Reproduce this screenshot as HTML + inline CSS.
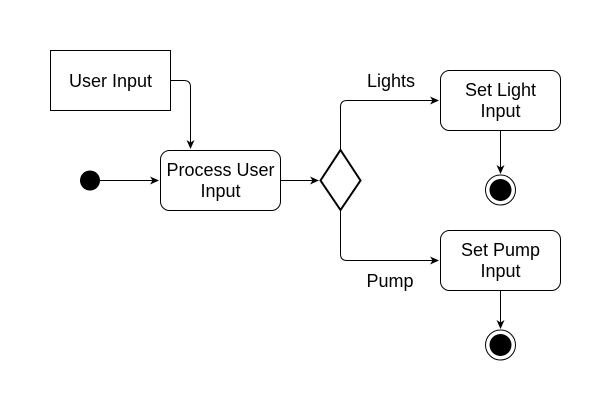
<!DOCTYPE html>
<html><head><style>body{margin:0;background:#fff}</style></head><body>
<svg width="611" height="411" xmlns="http://www.w3.org/2000/svg" font-family="Liberation Sans, sans-serif" font-size="18">
<defs><marker id="a" markerWidth="10" markerHeight="10" refX="8" refY="4" orient="auto" markerUnits="userSpaceOnUse"><path d="M0,0 L9,4 L0,8 L2.5,4 Z" fill="#000"/></marker></defs>
<g fill="none" stroke="#000" stroke-width="1">
<rect x="50.5" y="50.5" width="120" height="60" fill="#fff"/>
<rect x="160.5" y="150.5" width="120" height="60" rx="9" fill="#fff"/>
<rect x="440.5" y="70.5" width="120" height="60" rx="9" fill="#fff"/>
<rect x="440.5" y="230.5" width="120" height="60" rx="9" fill="#fff"/>
<path d="M170.5,80.5 H184 Q190.5,80.5 190.5,87 V148" marker-end="url(#a)"/>
<path d="M100,180.5 H158" marker-end="url(#a)"/>
<path d="M280.5,180.5 H318" marker-end="url(#a)"/>
<path d="M340.5,150 V107 Q340.5,100.5 347,100.5 H438" marker-end="url(#a)"/>
<path d="M340.5,210 V254 Q340.5,260.5 347,260.5 H438" marker-end="url(#a)"/>
<path d="M500.5,130.5 V173" marker-end="url(#a)"/>
<path d="M500.5,290.5 V328" marker-end="url(#a)"/>
<circle cx="500.5" cy="190" r="15" fill="#fff"/>
<circle cx="500.5" cy="345" r="15" fill="#fff"/>
</g>
<path d="M340.5,150 L360.5,180.5 L340.5,210 L320.5,180.5 Z" fill="#fff" stroke="#000" stroke-width="2"/>
<circle cx="90" cy="180.5" r="10" fill="#000"/>
<circle cx="500.5" cy="190" r="11" fill="#000"/>
<circle cx="500.5" cy="345" r="11" fill="#000"/>
<g text-anchor="middle" fill="#000">
<text x="110.5" y="87">User Input</text>
<text x="220.5" y="176">Process User</text>
<text x="220.5" y="197">Input</text>
<text x="500.5" y="96">Set Light</text>
<text x="500.5" y="117">Input</text>
<text x="500.5" y="256">Set Pump</text>
<text x="500.5" y="277">Input</text>
<text x="391" y="87">Lights</text>
<text x="390" y="287">Pump</text>
</g>
</svg>
</body></html>
